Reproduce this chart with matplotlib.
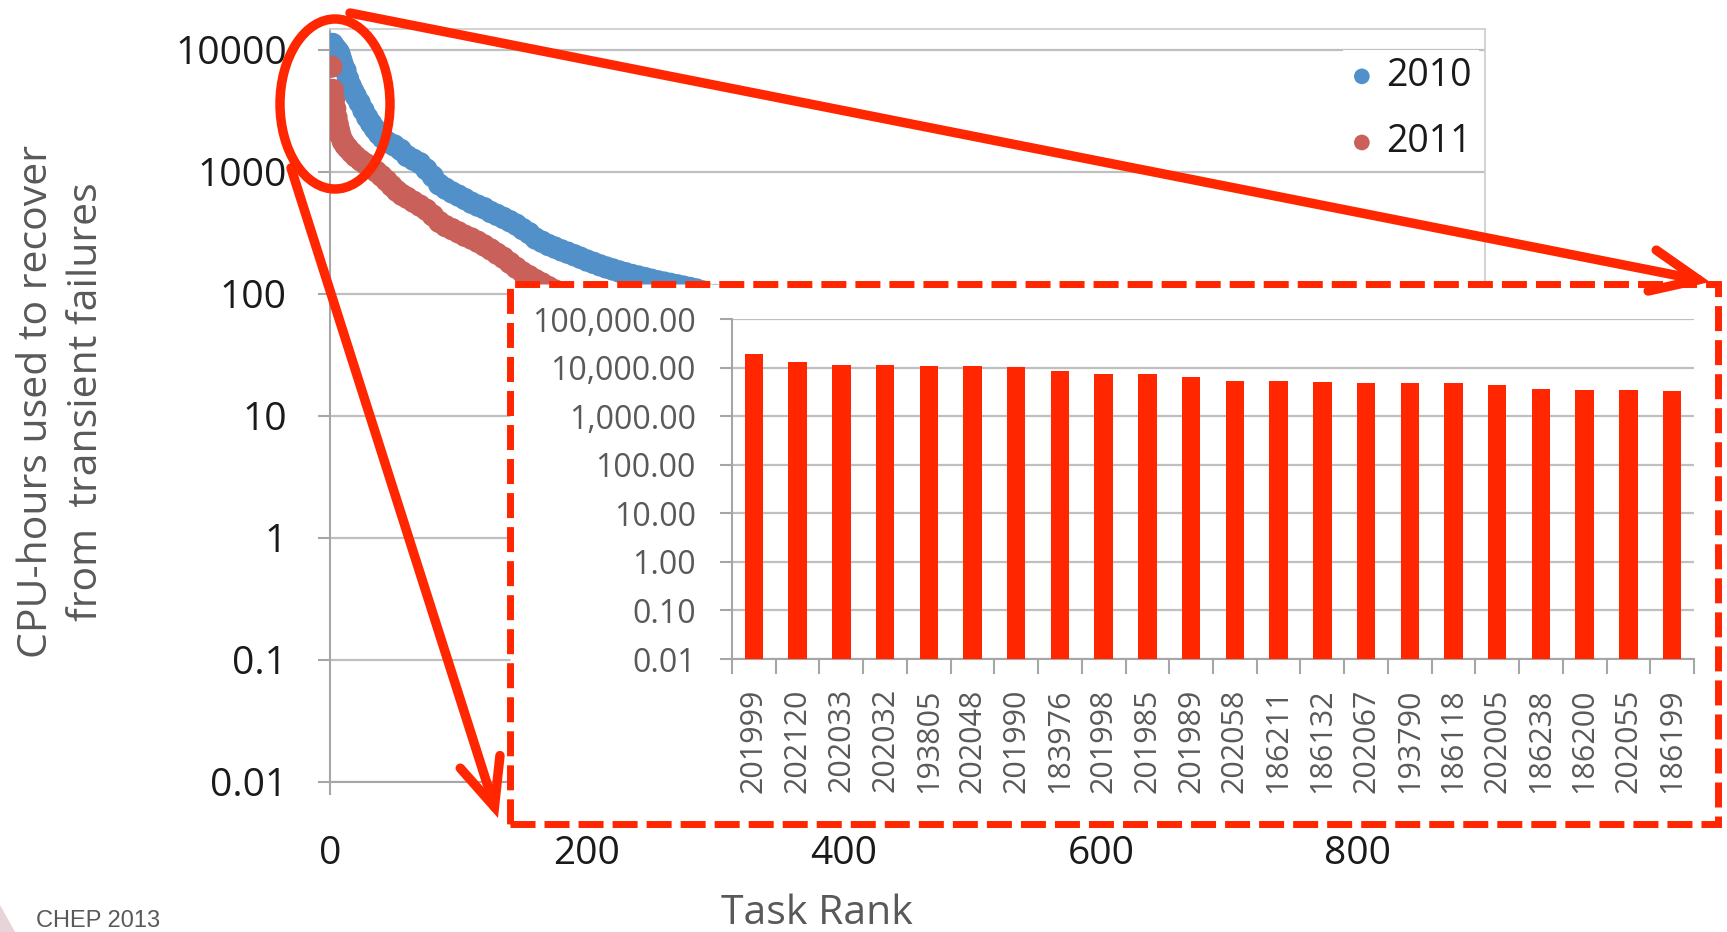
import numpy as np
import matplotlib.pyplot as plt
from matplotlib.patches import Ellipse, Rectangle, FancyArrowPatch, Polygon
from matplotlib.ticker import FuncFormatter, NullLocator

plt.rcParams['font.family'] = ['Open Sans', 'DejaVu Sans']

# CPU-hours spent recovering from transient failures, tasks sorted by rank
rank_2010 = [1, 2, 3, 4, 5, 6, 7, 8, 9, 10,
             12, 14, 16, 18, 20,
             23, 26, 29, 32, 35, 38, 41, 45,
             50, 55, 60, 65, 70, 75, 80, 85, 90, 95,
             100, 105, 110, 115, 120, 125, 130, 135, 140, 145,
             150, 155, 160, 165, 170, 175, 180, 185, 190, 195,
             200, 205, 210, 215, 220, 225, 230, 235, 240, 245,
             250, 255, 260, 265, 270, 275, 280, 285, 290,
             300, 310, 320]
hours_2010 = [11000, 11200, 10600, 10400, 10100, 9800, 9500, 8800, 8100, 7500,
              6800, 5800, 5100, 4600, 4200,
              3700, 3200, 2800, 2500, 2250, 2050, 1900, 1750,
              1650, 1520, 1350, 1260, 1180, 1050, 920, 790, 730, 680,
              640, 600, 560, 530, 505, 470, 445, 420, 395, 370,
              340, 315, 285, 268, 252, 240, 228, 218, 208, 198,
              188, 180, 172, 165, 159, 153, 148, 143, 139, 135,
              131, 127, 124, 121, 118, 115, 112, 109, 105,
              98, 90, 82]

rank_2011 = [1, 2, 3, 4, 5, 6, 7, 8, 10, 12, 14, 17, 20,
             24, 28, 32, 36, 40, 44, 48, 52, 56, 60,
             65, 70, 75, 80, 85, 90, 95, 100, 105, 110,
             115, 120, 125, 130, 135, 140, 145, 150, 155, 160,
             165, 170, 175, 180, 185, 190]
hours_2011 = [7300, 4700, 3900, 3300, 2800, 2450, 2200, 2000, 1780, 1650, 1560, 1440, 1340,
              1240, 1160, 1080, 1010, 930, 850, 770, 700, 650, 615,
              570, 530, 490, 440, 390, 360, 340, 320, 300, 285,
              268, 250, 232, 214, 198, 180, 164, 150, 140, 130,
              122, 114, 107, 100, 94, 88]

# top 22 tasks
task_ids = ['201999', '202120', '202033', '202032', '193805', '202048', '201990',
            '183976', '201998', '201985', '201989', '202058', '186211', '186132',
            '202067', '193790', '186118', '202005', '186238', '186200', '202055',
            '186199']
task_hours = [19000, 13300, 11200, 11200, 11000, 10650, 10150, 8550, 7400, 7350,
              6300, 5380, 5210, 5130, 4900, 4820, 4820, 4300, 3560, 3510, 3400, 3240]

W, H = 1727, 932
fig = plt.figure(figsize=(W / 100, H / 100), dpi=100)

grid_c = '#bfbfbf'
axis_c = '#a6a6a6'
red = '#ff2600'


def fx(px):
    return px / W


def fy(py):
    return 1 - py / H


# main scatter chart
ax = fig.add_axes([fx(330), fy(782), fx(1485 - 330), (782 - 29) / H])
ax.set_yscale('log')
ax.set_ylim(0.01, 10 ** 4.172)
ax.set_xlim(0, 899)
ax.set_yticks([0.01, 0.1, 1, 10, 100, 1000, 10000])
ax.set_yticklabels(['0.01', '0.1', '1', '10', '100', '1000', '10000'])
ax.yaxis.set_minor_locator(NullLocator())
ax.set_xticks([0, 200, 400, 600, 800])
ax.yaxis.grid(True, color=grid_c, lw=1.6)
ax.set_axisbelow(True)
for s in ['left', 'bottom']:
    ax.spines[s].set_color(axis_c)
    ax.spines[s].set_linewidth(1.5)
for s in ['top', 'right']:
    ax.spines[s].set_color('#cfcfcf')
    ax.spines[s].set_linewidth(1.3)
ax.tick_params(axis='y', length=9, width=1.5, color=axis_c, pad=22,
               labelsize=28, labelcolor='#1a1a1a')
ax.tick_params(axis='x', length=9, width=1.5, color=axis_c, pad=29,
               labelsize=28, labelcolor='#1a1a1a')

ax.scatter(rank_2010, hours_2010, s=260, color='#5290c9', edgecolors='none',
           label='2010', zorder=3)
ax.scatter(rank_2011, hours_2011, s=260, color='#c9615a', edgecolors='none',
           label='2011', zorder=3)

leg = ax.legend(loc='upper right', bbox_to_anchor=(0.995, 0.9725), borderaxespad=0,
                fontsize=27, markerscale=0.7, handlelength=0.6, handletextpad=0.35,
                labelspacing=0.75, borderpad=0.2, frameon=True, fancybox=False,
                framealpha=1, facecolor='white', edgecolor='none')
for t in leg.get_texts():
    t.set_color('#1a1a1a')

fig.text(fx(62), fy(402), 'CPU-hours used to recover\nfrom  transient failures',
         rotation=90, ha='center', va='center', fontsize=29.5, color='#595959',
         linespacing=1.32, multialignment='center')
fig.text(fx(817), fy(914), 'Task Rank', ha='center', va='center', fontsize=29.5,
         color='#595959')

# zoomed box with the top tasks
box = Rectangle((fx(510), fy(824)), fx(1718 - 510), (824 - 284) / H,
                transform=fig.transFigure, facecolor='white', edgecolor=red,
                lw=5, linestyle=(0, (3.6, 1.3)), zorder=2)
fig.add_artist(box)

ax2 = fig.add_axes([fx(732), fy(659), fx(1694 - 732), (659 - 319) / H], zorder=3)
ax2.set_facecolor('white')
ax2.set_yscale('log')
ax2.set_ylim(0.01, 1e5)
ax2.set_yticks([0.01, 0.1, 1, 10, 100, 1000, 10000, 100000])
ax2.yaxis.set_minor_locator(NullLocator())
ax2.yaxis.set_major_formatter(FuncFormatter(lambda v, p: f'{v:,.2f}'))
x = np.arange(len(task_ids))
ax2.bar(x, np.array(task_hours) - 0.01, bottom=0.01, width=0.42, color=red, zorder=3)
ax2.set_xlim(-0.5, len(task_ids) - 0.5)
ax2.set_xticks(x)
ax2.set_xticklabels(task_ids, rotation=90)
ax2.set_xticks(np.arange(-0.5, len(task_ids), 1), minor=True)
ax2.yaxis.grid(True, color=grid_c, lw=1.6)
ax2.set_axisbelow(True)
for s in ['top', 'right']:
    ax2.spines[s].set_visible(False)
for s in ['left', 'bottom']:
    ax2.spines[s].set_color(axis_c)
    ax2.spines[s].set_linewidth(1.5)
ax2.tick_params(axis='y', length=9, width=1.5, color=axis_c, pad=17,
                labelsize=23, labelcolor='#595959')
ax2.tick_params(axis='x', which='major', length=0, pad=21, labelsize=22,
                labelcolor='#595959')
ax2.tick_params(axis='x', which='minor', length=11, width=1.5, color=axis_c)

# highlight ellipse and arrows
fig.add_artist(Ellipse((fx(335), fy(104)), fx(110), 170 / H, transform=fig.transFigure,
                       fill=False, edgecolor=red, lw=6.8, zorder=5))
for (x0, y0), (x1, y1) in [((350, 13), (1710, 282)), ((291, 168), (498, 818))]:
    arr = FancyArrowPatch((fx(x0), fy(y0)), (fx(x1), fy(y1)), transform=fig.transFigure,
                          arrowstyle='->,head_length=34,head_width=15',
                          mutation_scale=1, shrinkA=0, shrinkB=0, color=red,
                          lw=6.8, capstyle='round', joinstyle='miter', zorder=5)
    fig.add_artist(arr)

fig.add_artist(Polygon([(0, fy(905)), (fx(15), 0), (0, 0)], closed=True,
                       transform=fig.transFigure, facecolor='#e8d3d8',
                       edgecolor='none', zorder=1))
fig.text(fx(36), fy(921), 'CHEP 2013', ha='left', va='center', fontsize=17,
         color='#595959', family='Liberation Sans')

fig.savefig('out.png', dpi=100)
